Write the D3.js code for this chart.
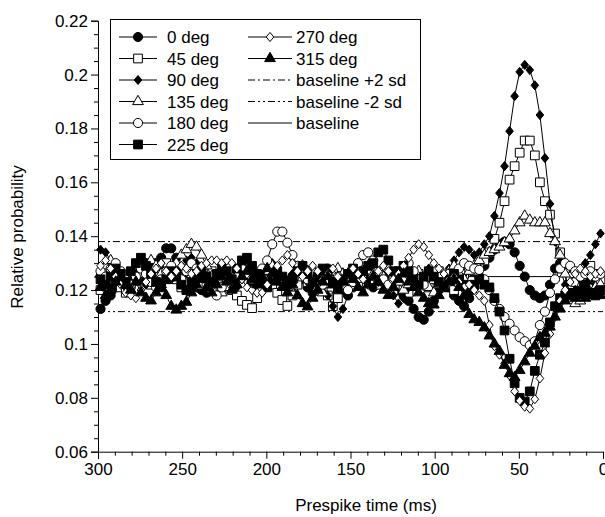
<!DOCTYPE html>
<html>
<head>
<meta charset="utf-8">
<script src="https://cdn.jsdelivr.net/npm/d3@7"></script>
<style>
  body { margin: 0; background: #fff; }
  text { font-family: "Liberation Sans", Arial, sans-serif; fill: #000; }
</style>
</head>
<body>
<div id="chart"></div>
<script>
// bin centres, 3 ms bins from 300 ms down to 0
const times = d3.range(298.5, 0, -3);

const deg0 = [0.113, 0.116, 0.118, 0.121, 0.124, 0.123, 0.126, 0.125, 0.128, 0.130,
  0.128, 0.130, 0.132, 0.1355, 0.1355, 0.132, 0.128, 0.126, 0.124, 0.121,
  0.120, 0.119, 0.122, 0.125, 0.127, 0.124, 0.122, 0.125, 0.128, 0.126,
  0.123, 0.121, 0.124, 0.127, 0.129, 0.126, 0.124, 0.122, 0.125, 0.127,
  0.124, 0.121, 0.119, 0.122, 0.125, 0.128, 0.126, 0.123, 0.120, 0.118,
  0.121, 0.124, 0.126, 0.123, 0.121, 0.124, 0.127, 0.125, 0.122, 0.120,
  0.118, 0.116, 0.113, 0.110, 0.109, 0.112, 0.116, 0.120, 0.123, 0.121,
  0.118, 0.116, 0.114, 0.117, 0.121, 0.125, 0.129, 0.132, 0.135, 0.137,
  0.138, 0.137, 0.134, 0.129, 0.125, 0.120, 0.118, 0.117, 0.118, 0.122,
  0.128, 0.130, 0.129, 0.126, 0.123, 0.121, 0.122, 0.124, 0.123, 0.125];

const deg45 = [0.120, 0.123, 0.126, 0.124, 0.121, 0.119, 0.122, 0.125, 0.127, 0.124,
  0.122, 0.125, 0.128, 0.130, 0.127, 0.124, 0.121, 0.123, 0.126, 0.124,
  0.122, 0.125, 0.127, 0.124, 0.121, 0.123, 0.120, 0.118, 0.116, 0.1145,
  0.1133, 0.117, 0.121, 0.124, 0.122, 0.119, 0.1163, 0.1141, 0.118, 0.122,
  0.125, 0.123, 0.126, 0.124, 0.121, 0.118, 0.114, 0.117, 0.121, 0.124,
  0.126, 0.123, 0.125, 0.127, 0.124, 0.122, 0.125, 0.123, 0.120, 0.122,
  0.121, 0.119, 0.124, 0.126, 0.123, 0.121, 0.124, 0.127, 0.125, 0.122,
  0.120, 0.123, 0.126, 0.128, 0.127, 0.129, 0.131, 0.134, 0.139, 0.145,
  0.153, 0.161, 0.166, 0.171, 0.1755, 0.1755, 0.170, 0.160, 0.153, 0.148,
  0.141, 0.134, 0.128, 0.125, 0.123, 0.126, 0.128, 0.129, 0.126, 0.124];

const deg90 = [0.135, 0.134, 0.131, 0.128, 0.124, 0.121, 0.123, 0.126, 0.124, 0.122,
  0.125, 0.128, 0.130, 0.127, 0.124, 0.126, 0.129, 0.131, 0.132, 0.130,
  0.127, 0.124, 0.122, 0.125, 0.128, 0.126, 0.123, 0.121, 0.124, 0.127,
  0.129, 0.126, 0.124, 0.127, 0.130, 0.128, 0.125, 0.123, 0.126, 0.128,
  0.126, 0.123, 0.121, 0.124, 0.122, 0.118, 0.114, 0.110, 0.113, 0.118,
  0.122, 0.125, 0.127, 0.124, 0.121, 0.123, 0.126, 0.122, 0.118, 0.115,
  0.117, 0.121, 0.124, 0.122, 0.125, 0.128, 0.126, 0.123, 0.125, 0.128,
  0.131, 0.134, 0.136, 0.135, 0.133, 0.134, 0.137, 0.140, 0.1475, 0.156,
  0.166, 0.179, 0.192, 0.201, 0.2036, 0.2017, 0.196, 0.185, 0.169, 0.152,
  0.138, 0.128, 0.122, 0.119, 0.120, 0.124, 0.130, 0.133, 0.137, 0.141];

const deg135 = [0.126, 0.129, 0.131, 0.128, 0.125, 0.122, 0.120, 0.123, 0.126, 0.129,
  0.131, 0.129, 0.126, 0.124, 0.127, 0.130, 0.133, 0.135, 0.137, 0.136,
  0.133, 0.129, 0.125, 0.122, 0.119, 0.121, 0.124, 0.127, 0.130, 0.128,
  0.125, 0.122, 0.124, 0.127, 0.129, 0.126, 0.123, 0.121, 0.124, 0.127,
  0.129, 0.127, 0.124, 0.121, 0.119, 0.122, 0.125, 0.128, 0.126, 0.123,
  0.121, 0.124, 0.127, 0.129, 0.126, 0.123, 0.125, 0.128, 0.126, 0.123,
  0.120, 0.122, 0.125, 0.127, 0.124, 0.121, 0.119, 0.122, 0.125, 0.127,
  0.129, 0.126, 0.124, 0.127, 0.129, 0.131, 0.133, 0.134, 0.135, 0.136,
  0.1376, 0.139, 0.142, 0.145, 0.1475, 0.146, 0.145, 0.145, 0.145, 0.141,
  0.138, 0.133, 0.126, 0.118, 0.115, 0.116, 0.118, 0.119, 0.121, 0.122];

const deg180 = [0.127, 0.125, 0.128, 0.130, 0.127, 0.124, 0.122, 0.125, 0.128, 0.126,
  0.123, 0.121, 0.124, 0.127, 0.129, 0.126, 0.124, 0.127, 0.130, 0.128,
  0.125, 0.122, 0.120, 0.118, 0.121, 0.124, 0.122, 0.125, 0.128, 0.126,
  0.124, 0.126, 0.128, 0.131, 0.137, 0.1417, 0.1417, 0.1376, 0.133, 0.129,
  0.126, 0.124, 0.127, 0.125, 0.122, 0.124, 0.127, 0.125, 0.122, 0.120,
  0.123, 0.130, 0.133, 0.134, 0.131, 0.127, 0.124, 0.122, 0.124, 0.126,
  0.128, 0.130, 0.127, 0.124, 0.122, 0.125, 0.127, 0.125, 0.123, 0.126,
  0.126, 0.128, 0.130, 0.129, 0.128, 0.1275, 0.124, 0.120, 0.116, 0.113,
  0.110, 0.1075, 0.105, 0.1025, 0.101, 0.0995, 0.101, 0.107, 0.112, 0.119,
  0.124, 0.128, 0.130, 0.129, 0.127, 0.125, 0.126, 0.127, 0.125, 0.126];

const deg225 = [0.124, 0.122, 0.125, 0.128, 0.126, 0.123, 0.127, 0.130, 0.132, 0.129,
  0.126, 0.123, 0.121, 0.124, 0.127, 0.125, 0.122, 0.120, 0.123, 0.126,
  0.128, 0.125, 0.123, 0.126, 0.129, 0.127, 0.124, 0.128, 0.131, 0.132,
  0.129, 0.126, 0.123, 0.121, 0.124, 0.127, 0.125, 0.122, 0.124, 0.127,
  0.129, 0.126, 0.123, 0.125, 0.128, 0.126, 0.123, 0.121, 0.124, 0.126,
  0.128, 0.126, 0.127, 0.129, 0.130, 0.134, 0.135, 0.131, 0.127, 0.127,
  0.129, 0.127, 0.124, 0.122, 0.125, 0.127, 0.125, 0.123, 0.121, 0.124,
  0.126, 0.124, 0.122, 0.120, 0.122, 0.124, 0.122, 0.121, 0.117, 0.112,
  0.105, 0.0945, 0.0854, 0.080, 0.0786, 0.0824, 0.090, 0.096, 0.1005, 0.108,
  0.114, 0.117, 0.118, 0.119, 0.118, 0.119, 0.120, 0.119, 0.118, 0.120];

const deg270 = [0.129, 0.131, 0.128, 0.125, 0.122, 0.119, 0.118, 0.117, 0.120, 0.123,
  0.126, 0.128, 0.130, 0.127, 0.125, 0.127, 0.129, 0.128, 0.126, 0.127,
  0.129, 0.130, 0.131, 0.131, 0.130, 0.131, 0.130, 0.128, 0.124, 0.121,
  0.120, 0.119, 0.119, 0.122, 0.126, 0.129, 0.131, 0.133, 0.130, 0.127,
  0.125, 0.127, 0.129, 0.127, 0.124, 0.126, 0.128, 0.125, 0.123, 0.126,
  0.128, 0.126, 0.124, 0.122, 0.125, 0.127, 0.129, 0.127, 0.124, 0.126,
  0.129, 0.132, 0.135, 0.137, 0.136, 0.133, 0.130, 0.128, 0.126, 0.124,
  0.125, 0.123, 0.121, 0.122, 0.120, 0.118, 0.116, 0.107, 0.0992, 0.096,
  0.0928, 0.0883, 0.0824, 0.0789, 0.0767, 0.076, 0.0795, 0.0872, 0.0966, 0.1037,
  0.110, 0.116, 0.120, 0.123, 0.126, 0.128, 0.127, 0.125, 0.126, 0.127];

const deg315 = [0.121, 0.118, 0.120, 0.123, 0.125, 0.122, 0.120, 0.123, 0.119, 0.117,
  0.116, 0.119, 0.122, 0.118, 0.114, 0.1126, 0.114, 0.1155, 0.119, 0.122,
  0.124, 0.121, 0.119, 0.122, 0.125, 0.123, 0.120, 0.122, 0.125, 0.127,
  0.124, 0.122, 0.125, 0.128, 0.126, 0.123, 0.121, 0.119, 0.122, 0.118,
  0.115, 0.1138, 0.117, 0.120, 0.123, 0.125, 0.122, 0.120, 0.123, 0.126,
  0.124, 0.121, 0.119, 0.122, 0.125, 0.123, 0.120, 0.118, 0.121, 0.124,
  0.126, 0.123, 0.121, 0.119, 0.117, 0.115, 0.1145, 0.118, 0.121, 0.123,
  0.124, 0.121, 0.118, 0.111, 0.109, 0.108, 0.106, 0.103, 0.100, 0.0973,
  0.0921, 0.089, 0.0876, 0.0902, 0.0934, 0.0966, 0.0992, 0.1024, 0.104, 0.1063,
  0.110, 0.113, 0.116, 0.118, 0.117, 0.118, 0.117, 0.118, 0.119, 0.118];

// reference levels: baseline +2 sd, baseline -2 sd, baseline
const refNames = ["baseline +2 sd", "baseline -2 sd", "baseline"];
const refLevels = [0.138, 0.112, 0.125];
const refDash = ["7,3,2,3", "7,3,2,3,2,3", null];

const seriesNames = ["0 deg", "45 deg", "90 deg", "135 deg", "180 deg", "225 deg", "270 deg", "315 deg"];
const seriesValues = [deg0, deg45, deg90, deg135, deg180, deg225, deg270, deg315];
const seriesShape = ["circle", "square", "diamond", "triangle", "circle", "square", "diamond", "triangle"];
const seriesFilled = [true, false, true, false, false, true, false, true];

const yTicks = [0.06, 0.08, 0.1, 0.12, 0.14, 0.16, 0.18, 0.2, 0.22];
const yTickLabels = ["0.06", "0.08", "0.1", "0.12", "0.14", "0.16", "0.18", "0.2", "0.22"];
const xTicks = [300, 250, 200, 150, 100, 50, 0];

const width = 605, height = 517;

const svg = d3.select("#chart").append("svg")
  .attr("width", width)
  .attr("height", height);

const x = d3.scaleLinear().domain([300, 0]).range([98, 603]);
const y = d3.scaleLinear().domain([0.06, 0.22]).range([451.7, 20.7]);

// custom diamond marker
const diamondType = {
  draw(ctx, size) {
    const w = Math.sqrt(size) * 0.5, h = Math.sqrt(size) * 0.6;
    ctx.moveTo(0, -h); ctx.lineTo(w, 0); ctx.lineTo(0, h); ctx.lineTo(-w, 0); ctx.closePath();
  }
};
const shapeType = { circle: d3.symbolCircle, square: d3.symbolSquare, triangle: d3.symbolTriangle, diamond: diamondType };
const shapeSize = { circle: 66, square: 76, triangle: 50, diamond: 58 };
const marker = s => d3.symbol().type(shapeType[s]).size(shapeSize[s]);

// axes
svg.append("g").attr("transform", "translate(98,0)")
  .call(d3.axisLeft(y).tickValues(yTicks).tickSize(7).tickPadding(3)
    .tickFormat((d, i) => yTickLabels[i]));
svg.append("g").attr("transform", "translate(98,0)")
  .call(d3.axisLeft(y).tickValues(d3.range(0.065, 0.22, 0.005).filter(v => Math.abs(v * 50 - Math.round(v * 50)) > 1e-6))
    .tickSize(4).tickFormat(""))
  .select(".domain").remove();

svg.append("g").attr("transform", "translate(0,451.7)")
  .call(d3.axisBottom(x).tickValues(xTicks).tickSize(7).tickPadding(4).tickFormat(d3.format("d")));
svg.append("g").attr("transform", "translate(0,451.7)")
  .call(d3.axisBottom(x).tickValues(d3.range(10, 300, 10).filter(v => v % 50 !== 0)).tickSize(4).tickFormat(""))
  .select(".domain").remove();

svg.selectAll(".tick text").style("font-size", "17px").style("font-family", "'Liberation Sans', Arial, sans-serif");
svg.selectAll(".domain, .tick line").attr("stroke", "#000");

svg.append("text")
  .attr("x", 366).attr("y", 511)
  .attr("text-anchor", "middle")
  .style("font-size", "17px")
  .text("Prespike time (ms)");

svg.append("text")
  .attr("transform", "translate(23,237) rotate(-90)")
  .attr("text-anchor", "middle")
  .style("font-size", "17px")
  .text("Relative probability");

// reference lines
refLevels.forEach((v, i) => {
  svg.append("line")
    .attr("x1", x(300)).attr("x2", x(0))
    .attr("y1", y(v)).attr("y2", y(v))
    .attr("stroke", "#000").attr("stroke-width", 1)
    .attr("stroke-dasharray", refDash[i]);
});

// series
const line = d3.line().x(d => x(d[0])).y(d => y(d[1]));
seriesValues.forEach((vals, k) => {
  const pts = times.map((t, i) => [t, vals[i]]);
  const g = svg.append("g");
  g.append("path").datum(pts)
    .attr("d", line)
    .attr("fill", "none")
    .attr("stroke", "#000")
    .attr("stroke-width", 1);
  g.selectAll("path.m").data(pts).join("path")
    .attr("class", "m")
    .attr("transform", d => `translate(${x(d[0])},${y(d[1])})`)
    .attr("d", marker(seriesShape[k]))
    .attr("fill", seriesFilled[k] ? "#000" : "#fff")
    .attr("stroke", "#000")
    .attr("stroke-width", 1);
});

// legend
const legend = svg.append("g");
legend.append("rect")
  .attr("x", 110.5).attr("y", 19.5).attr("width", 310).attr("height", 140)
  .attr("fill", "#fff").attr("stroke", "#000").attr("stroke-width", 1);

const rowY = i => 37 + i * 21.5;
const legendItems = seriesNames.map((n, k) => ({ name: n, k: k }))
  .concat(refNames.map((n, r) => ({ name: n, r: r })));
legendItems.forEach((it, idx) => {
  const col = idx < 6 ? 0 : 1;
  const row = col === 0 ? idx : idx - 6;
  const x0 = col === 0 ? 119 : 248, x1 = col === 0 ? 157 : 292;
  const cy = rowY(row);
  const g = legend.append("g");
  g.append("line")
    .attr("x1", x0).attr("x2", x1).attr("y1", cy).attr("y2", cy)
    .attr("stroke", "#000").attr("stroke-width", 1)
    .attr("stroke-dasharray", it.r !== undefined ? refDash[it.r] : null);
  if (it.k !== undefined) {
    g.append("path")
      .attr("transform", `translate(${(x0 + x1) / 2},${cy})`)
      .attr("d", marker(seriesShape[it.k]))
      .attr("fill", seriesFilled[it.k] ? "#000" : "#fff")
      .attr("stroke", "#000");
  }
  g.append("text")
    .attr("x", col === 0 ? 167 : 296)
    .attr("y", cy + 6)
    .style("font-size", "17px")
    .text(it.name);
});
</script>
</body>
</html>
